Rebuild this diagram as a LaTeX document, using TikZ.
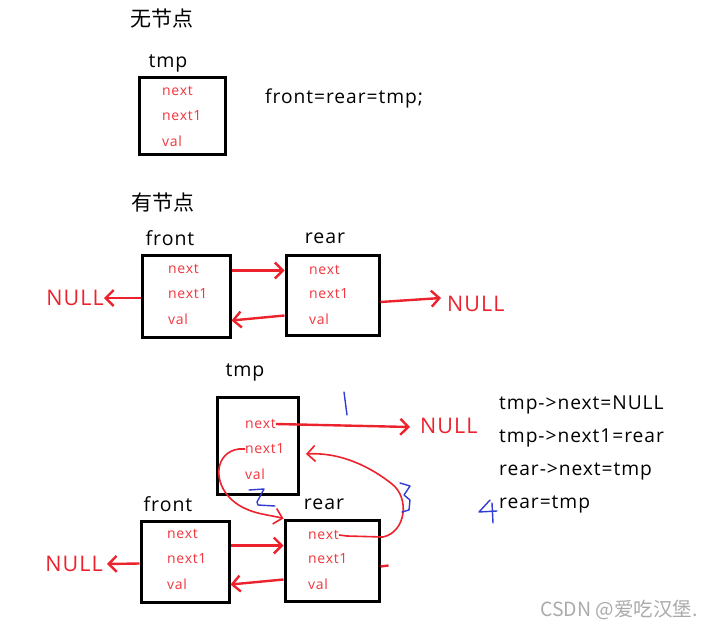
\documentclass[tikz,border=0pt]{standalone}
\usepackage{fontspec}
\setmainfont[LetterSpace=5]{Open Sans}
\newfontfamily\cjk{Noto Sans CJK SC}
\usetikzlibrary{arrows.meta,positioning}
\definecolor{ptrred}{RGB}{236,34,44}
\definecolor{fieldred}{RGB}{240,52,60}
\definecolor{penblue}{RGB}{48,60,210}
\definecolor{markgray}{RGB}{170,170,170}

\begin{document}
\begin{tikzpicture}[x=1pt,y=-1pt]
	\tikzset{box/.style={draw,line width=3pt,inner sep=0pt}}
	\tikzset{field/.style={anchor=west,inner sep=0pt,text=fieldred,font=\fontsize{14}{16}\selectfont}}
	\tikzset{ptrname/.style={font=\fontsize{19.5}{22}\selectfont}}
	\tikzset{title/.style={font=\cjk\fontsize{21}{24}\selectfont}}
	\tikzset{stmt/.style={anchor=west,inner sep=0pt,font=\fontsize{19.2}{22}\selectfont}}
	\tikzset{nulltext/.style={text=ptrred,inner sep=0pt,font=\fontsize{21.5}{24}\selectfont}}
	\tikzset{ptr/.style={draw=ptrred,line width=2.4pt,-{Straight Barb[length=8pt,width=16pt]}}}
	\tikzset{penmark/.style={draw=penblue,line width=1.4pt,line cap=round,line join=round}}
	\useasboundingbox (0,0) rectangle (703,631);
	% no node
	\node[title] (title1) at (162,19) {无节点};
	\node[ptrname] (tmpname1) at (168,63) {tmp};
	\node[box,minimum width=86,minimum height=77] (tmp1) at (182,116.5) {};
	\node[field] (t1n) at (162,91) {next};
	\node[field] (t1n1) at (162,116) {next1};
	\node[field] (t1v) at (162,141) {val};
	\node[stmt] (assign) at (265,98) {front=rear=tmp;};
	% with nodes
	\node[title] (title2) at (163,203) {有节点};
	\node[ptrname] (frontname1) at (170,238) {front};
	\node[ptrname] (rearname1) at (325,238) {rear};
	\node[box,minimum width=88,minimum height=82] (front1) at (186,296) {};
	\node[box,minimum width=93,minimum height=80] (rear1) at (332.5,295) {};
	\node[field] (f1n) at (168,269) {next};
	\node[field] (f1n1) at (168,294) {next1};
	\node[field] (f1v) at (168,319) {val};
	\node[field] (r1n) at (309,270) {next};
	\node[field] (r1n1) at (309,294) {next1};
	\node[field] (r1v) at (309,319) {val};
	\node[nulltext,anchor=east] (null1) at (104,298) {NULL};
	\node[nulltext,anchor=west] (null2) at (447,304) {NULL};
	\draw[ptr] ([yshift=-17pt]front1.north east) -- ([yshift=-17pt]rear1.north west);
	\draw[ptr] ([yshift=21pt]rear1.south west) -- ([yshift=18pt]front1.south east);
	\draw[ptr] ([yshift=-2pt]front1.west) -- (null1.east);
	\draw[ptr] ([yshift=-7pt]rear1.east) -- ([xshift=-6pt,yshift=6pt]null2.west);
	% insert tmp
	\node[ptrname] (tmpname2) at (245,372) {tmp};
	\node[box,minimum width=81,minimum height=97] (tmp2) at (257.5,445.5) {};
	\node[field] (t2n) at (245,424) {next};
	\node[field] (t2n1) at (245,449) {next1};
	\node[field] (t2v) at (245,474) {val};
	\node[ptrname] (frontname2) at (168,504) {front};
	\node[ptrname] (rearname2) at (324,504) {rear};
	\node[box,minimum width=88,minimum height=81] (front2) at (185,561.5) {};
	\node[box,minimum width=94,minimum height=81] (rear2) at (332,560.5) {};
	\node[field] (f2n) at (167,534) {next};
	\node[field] (f2n1) at (167,559) {next1};
	\node[field] (f2v) at (167,584) {val};
	\node[field] (r2n) at (308,535) {next};
	\node[field] (r2n1) at (308,559) {next1};
	\node[field] (r2v) at (308,584) {val};
	\node[nulltext,anchor=west] (null3) at (420,426) {NULL};
	\node[nulltext,anchor=east] (null4) at (103,564) {NULL};
	\draw[ptr] (t2n.east) -- ([xshift=-10pt,yshift=-1pt]null3.west);
	\draw[ptr] ([yshift=-26pt]front2.north east) -- ([yshift=-27pt]rear2.north west);
	\draw[ptr] ([yshift=23pt]rear2.south west) -- ([yshift=19pt]front2.south east);
	\draw[ptr] ([yshift=-2pt]front2.west) -- ([xshift=4pt]null4.east);
	\draw[draw=ptrred,line width=2.4pt] ([yshift=-6pt]rear2.east) -- ++(8,-1);
	\draw[ptr,line width=1.6pt] (t2n1.west) -- ++(-6,0) .. controls (215,452) and (212,482) .. (232,500) .. controls (248,514) and (266,514) .. (rear2.north west);
	\coordinate (tmpright) at (306,454);
	\draw[ptr,line width=1.6pt] (r2n.east) -- ++(8,1) -- (383,537) .. controls (406,532) and (410,498) .. (392,484) .. controls (372,468) and (342,452) .. (tmpright);
	% step numbers
	\draw[penmark] (344,392) -- (347,415);
	\draw[penmark] (249,490) -- (264,489) -- (257,502) -- (258,505) -- (275,506);
	\draw[penmark] (400,483) -- (410,486) -- (404,495) -- (410,500) -- (409,510) -- (402,512);
	\draw[penmark] (490,500) -- (479,512) -- (497,511) (492,503) -- (493,523);
	\node[stmt] (step1) at (499,405) {tmp->next=NULL};
	\node[stmt] (step2) at (499,438) {tmp->next1=rear};
	\node[stmt] (step3) at (499,471) {rear->next=tmp};
	\node[stmt] (step4) at (499,504) {rear=tmp};
	\node[text=markgray,font=\cjk\fontsize{19.5}{22}\selectfont] (mark) at (619,610) {CSDN @爱吃汉堡.};
\end{tikzpicture}
\end{document}
